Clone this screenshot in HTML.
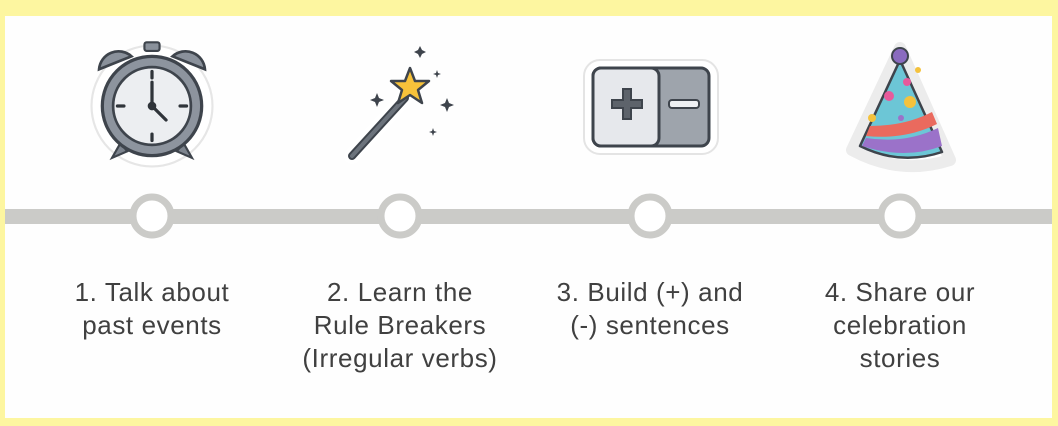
<!DOCTYPE html>
<html><head><style>
html,body{margin:0;padding:0}
body{width:1058px;height:426px;background:#fdf6a0;position:relative;overflow:hidden;font-family:"Liberation Sans","DejaVu Sans",sans-serif}
#in{position:absolute;left:5px;top:16px;width:1047px;height:402px;background:#fefefe}
.t{position:absolute;width:260px;text-align:center;font-size:26px;letter-spacing:0.6px;line-height:33px;color:#404040;top:276px}
</style></head><body>
<div id="in"></div>
<svg width="1058" height="426" style="position:absolute;left:0;top:0">
<rect x="5" y="209" width="1047" height="15" fill="#cbcbc8"/>
<g fill="#fff" stroke="#cbcbc8" stroke-width="7">
<circle cx="152" cy="216" r="19"/><circle cx="400" cy="216" r="19"/><circle cx="650" cy="216" r="19"/><circle cx="900" cy="216" r="19"/>
</g>
<!-- clock -->
<g transform="translate(152 106) scale(1.08) translate(-152 -106)">
<circle cx="152" cy="106" r="56" fill="#fff" stroke="#e6e6e6" stroke-width="2"/>
<path d="M103 72 a18 18 0 0 1 30 -12 z" fill="#8a919b" stroke="#3e444c" stroke-width="2.5"/>
<path d="M201 72 a18 18 0 0 0 -30 -12 z" fill="#8a919b" stroke="#3e444c" stroke-width="2.5"/>
<rect x="145" y="47" width="14" height="8" rx="2" fill="#8a919b" stroke="#3e444c" stroke-width="2"/>
<path d="M123 140 l-8 14 l14 -6z M181 140 l8 14 l-14 -6z" fill="#7d848e" stroke="#3e444c" stroke-width="2"/>
<circle cx="152" cy="106" r="46" fill="#8d949e" stroke="#3e444c" stroke-width="3"/>
<circle cx="152" cy="106" r="36" fill="#eceef1" stroke="#3e444c" stroke-width="2.5"/>
<path d="M152 74v6M152 132v6M120 106h6M178 106h6M152 106V84M152 106l13 13" stroke="#2f343a" stroke-width="3" stroke-linecap="round"/>
<circle cx="152" cy="106" r="4" fill="#2f343a"/>
</g>
<!-- wand -->
<g>
<line x1="352" y1="156" x2="410" y2="92" stroke="#fff" stroke-width="16" stroke-linecap="round"/>
<line x1="352" y1="156" x2="405" y2="98" stroke="#3e444c" stroke-width="8" stroke-linecap="round"/>
<line x1="352" y1="156" x2="405" y2="98" stroke="#6c737c" stroke-width="4" stroke-linecap="round"/>
<polygon points="410,68 415,81 429,81 418,90 422,103 410,95 398,103 402,90 391,81 405,81" fill="#f7c23a" stroke="#3e444c" stroke-width="2.5" stroke-linejoin="round"/>
<path d="M377 93l2 5 5 2-5 2-2 5-2-5-5-2 5-2z M447 98l2 5 5 2-5 2-2 5-2-5-5-2 5-2z M420 46l2 4 4 2-4 2-2 4-2-4-4-2 4-2z" fill="#3e444c"/>
<path d="M437 70l1 3 3 1-3 1-1 3-1-3-3-1 3-1z M433 128l1 3 3 1-3 1-1 3-1-3-3-1 3-1z" fill="#3e444c"/>
</g>
<!-- plus minus -->
<g>
<rect x="584" y="60" width="134" height="94" rx="16" fill="#fff" stroke="#e4e4e4" stroke-width="2"/>
<rect x="593" y="68" width="116" height="78" rx="8" fill="#9ea4ac" stroke="#3e444c" stroke-width="3"/>
<rect x="593" y="68" width="66" height="78" rx="8" fill="#e6e8ec" stroke="#3e444c" stroke-width="3"/>
<path d="M623 89h8v11h11v8h-11v11h-8v-11h-11v-8h11z" fill="#5d636b" stroke="#3e444c" stroke-width="2"/>
<rect x="669" y="100" width="30" height="8" rx="3" fill="#eef0f3" stroke="#3e444c" stroke-width="2"/>
</g>
<!-- hat -->
<g>
<path d="M900 48 L950 160 Q900 176 852 150 Z" fill="#fff" stroke="#ececec" stroke-width="12" stroke-linejoin="round"/>
<path d="M900 60 L942 152 Q900 166 860 146 Z" fill="#6cc6d6" stroke="#3e444c" stroke-width="2.5" stroke-linejoin="round"/>
<path d="M870 126 Q905 126 932 112 L937 124 Q905 140 866 136Z" fill="#ea6a5e"/>
<path d="M866 138 Q905 144 938 128 L942 146 Q905 160 862 146Z" fill="#9b72c9"/>
<circle cx="900" cy="56" r="8" fill="#8a6bbf" stroke="#3e444c" stroke-width="2"/>
<circle cx="907" cy="82" r="4" fill="#e75a9b"/><circle cx="910" cy="102" r="6" fill="#f4c23d"/><circle cx="889" cy="96" r="5" fill="#e75a9b"/><circle cx="918" cy="70" r="3" fill="#f4c23d"/><circle cx="901" cy="118" r="3" fill="#9b72c9"/><circle cx="872" cy="118" r="4" fill="#f4c23d"/>
</g>
</svg>
<div class="t" style="left:22px">1. Talk about<br>past events</div>
<div class="t" style="left:270px">2. Learn the<br>Rule Breakers<br>(Irregular verbs)</div>
<div class="t" style="left:520px">3. Build (+) and<br>(-) sentences</div>
<div class="t" style="left:770px">4. Share our<br>celebration<br>stories</div>
</body></html>
